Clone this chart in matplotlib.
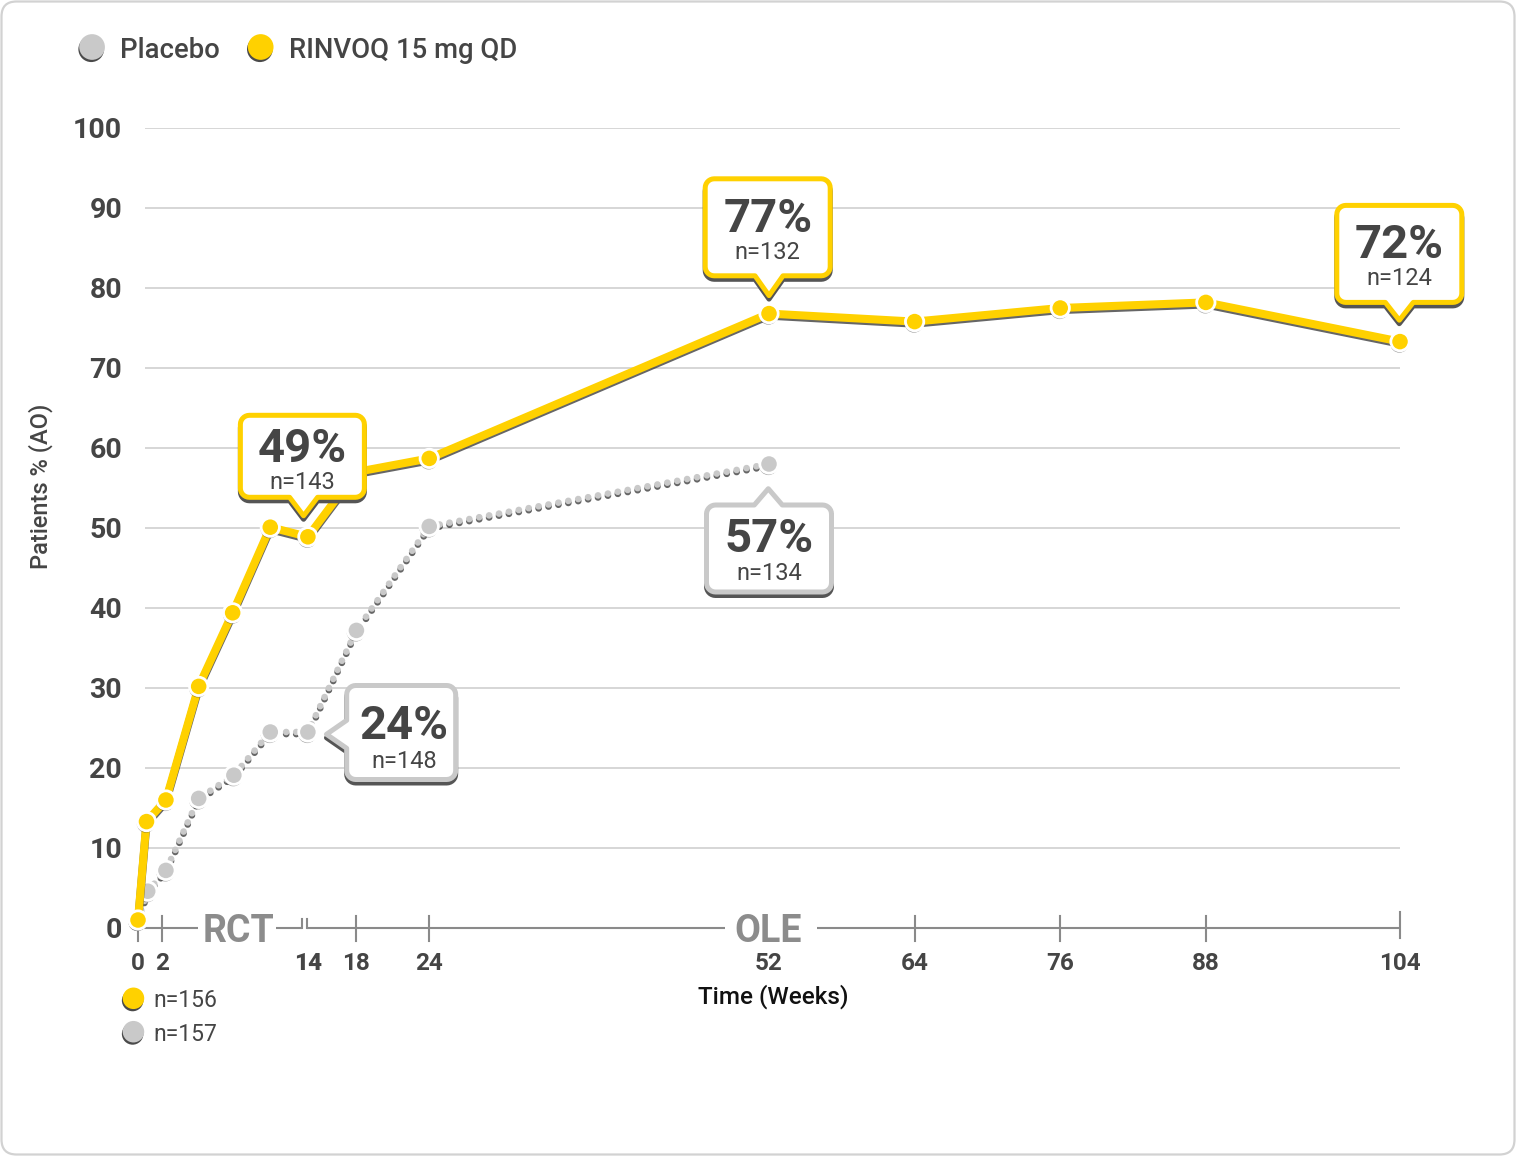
import numpy as np
import matplotlib
matplotlib.use("Agg")
import matplotlib.pyplot as plt
import matplotlib.patheffects as pe
import matplotlib.transforms as mtransforms
from matplotlib.patches import Polygon, FancyBboxPatch
from matplotlib.lines import Line2D

plt.rcParams['font.family'] = ['Roboto', 'DejaVu Sans']

# ---------------- data ----------------
rinvoq_weeks = [0, 0.7, 2.3, 5, 7.8, 10.9, 14, 18, 24, 52, 64, 76, 88, 104]
rinvoq_pct = [1.0, 13.3, 16.0, 30.2, 39.4, 50.1, 48.9, 57.0, 58.7, 76.8, 75.8, 77.5, 78.2, 73.3]
placebo_weeks = [0, 0.8, 2.3, 5, 7.9, 10.9, 14, 18, 24, 52]
placebo_pct = [1.0, 4.6, 7.2, 16.2, 19.1, 24.5, 24.5, 37.2, 50.2, 58.0]

x_ticks = [0, 2, 14, 18, 24, 52, 64, 76, 88, 104]
x_tick_labels = ['0', '2', '14', '18', '24', '52', '64', '76', '88', '104']
y_ticks = list(range(0, 101, 10))

series_names = ['Placebo', 'RINVOQ 15 mg QD']
baseline_n = ['n=156', 'n=157']  # RINVOQ, Placebo

rinvoq_callout_weeks = [14, 52, 104]
rinvoq_callout_pct = ['49%', '77%', '72%']
rinvoq_callout_n = ['n=143', 'n=132', 'n=124']
placebo_callout_weeks = [14, 52]
placebo_callout_pct = ['24%', '57%']
placebo_callout_n = ['n=148', 'n=134']

# ---------------- style ----------------
YEL = '#FFD100'
GRY = '#C9C9C9'
TXT = '#454545'
AX = '#8a8a8a'

W, H, DPI = 1516, 1156, 100
fig = plt.figure(figsize=(W / DPI, H / DPI), dpi=DPI, facecolor='white')
ax = fig.add_axes([138 / W, (H - 928) / H, 1262 / W, 800 / H])
ax.set_xlim(0, 104)
ax.set_ylim(0, 100)
ax.set_facecolor('none')
for s in ax.spines.values():
    s.set_visible(False)

# frame
fig.patches.append(FancyBboxPatch((0.015, 0.015), W / DPI - 0.03, H / DPI - 0.03,
                                  boxstyle='round,pad=0,rounding_size=0.15',
                                  transform=fig.dpi_scale_trans, fc='none',
                                  ec='#d2d2d2', lw=1.6, zorder=-5))

# grid
ax.hlines(y_ticks[1:], 0.6, 104, color='#cfcfcf', lw=1.2, zorder=0)

# y ticks
ax.set_yticks(y_ticks)
ax.set_yticklabels([str(v) for v in y_ticks])
ax.tick_params(axis='y', length=0, pad=11.5, labelsize=20.5, labelcolor=TXT)
for lab in ax.get_yticklabels():
    lab.set_fontweight('bold')

# x ticks (labels only; marks drawn as custom axis)
ax.set_xticks(x_ticks)
ax.set_xticklabels(x_tick_labels)
ax.tick_params(axis='x', length=0, pad=17.5, labelsize=17.5, labelcolor=TXT)
for lab in ax.get_xticklabels():
    lab.set_fontweight('heavy' if lab.get_text() == '14' else 'bold')

# custom axis line with RCT / OLE breaks
segs = [(0, 4.94), (11.37, 13.55), (13.95, 48.37), (55.95, 104)]
for a, b in segs:
    ax.plot([a, b], [0, 0], color=AX, lw=1.5, clip_on=False, zorder=1,
            solid_capstyle='butt')
ax.plot([13.55, 13.55], [0, 1.1], color=AX, lw=1.5, clip_on=False, zorder=1)
ax.plot([13.95, 13.95], [0, 1.1], color=AX, lw=1.5, clip_on=False, zorder=1)
for t in [0, 2, 18, 24, 64, 76, 88]:
    ax.plot([t, t], [-1.6, 1.5], color=AX, lw=1.5, clip_on=False, zorder=1)
ax.plot([104, 104], [-1.2, 2.0], color=AX, lw=1.5, clip_on=False, zorder=1)
ax.text(8.3, 0, 'RCT', ha='center', va='center_baseline', fontsize=27,
        fontweight='bold', color='#8c8c8c', zorder=1)
ax.text(51.9, 0, 'OLE', ha='center', va='center_baseline', fontsize=27,
        fontweight='bold', color='#8c8c8c', zorder=1)

# axis labels
ax.set_ylabel('Patients % (AO)', fontsize=17, color=TXT, fontweight='medium')
ax.yaxis.set_label_coords(-0.067, 0.5525)
ax.set_xlabel('Time (Weeks)', fontsize=17.5, color='#111111', fontweight='medium')
ax.xaxis.label.set_va('center')
ax.xaxis.set_label_coords(0.503, -0.08625)

# ---------------- series ----------------
line_shadow = [pe.SimpleLineShadow(offset=(0, -1.5), shadow_color='#333333', alpha=0.75),
               pe.Normal()]
mark_shadow = [pe.SimplePatchShadow(offset=(-0.4, -1.4), shadow_rgbFace='#333333', alpha=0.45),
               pe.Normal()]

ax.plot(placebo_weeks, placebo_pct, color=GRY, lw=4.8, ls=(0, (0.01, 1.5)),
        dash_capstyle='round', zorder=2, clip_on=False, path_effects=line_shadow)
ax.plot(placebo_weeks, placebo_pct, ls='none', marker='o', ms=13.2, mfc=GRY,
        mec='white', mew=2.0, zorder=3, clip_on=False, path_effects=mark_shadow)
ax.plot(rinvoq_weeks, rinvoq_pct, color=YEL, lw=5.8, zorder=4, clip_on=False,
        solid_joinstyle='round', path_effects=line_shadow)
ax.plot(rinvoq_weeks, rinvoq_pct, ls='none', marker='o', ms=13.2, mfc=YEL,
        mec='white', mew=2.0, zorder=5, clip_on=False, path_effects=mark_shadow)


# ---------------- callouts ----------------
def callout_path(cx, cy, w, h, r, side, tip, hw):
    x0, x1 = cx - w / 2, cx + w / 2
    y0, y1 = cy - h / 2, cy + h / 2
    v = []

    def arc(xc, yc, a0, a1):
        for a in np.linspace(np.radians(a0), np.radians(a1), 8):
            v.append((xc + r * np.cos(a), yc + r * np.sin(a)))
    v.append((x0 + r, y0))
    if side == 'bottom':
        v += [(tip[0] - hw, y0), tip, (tip[0] + hw, y0)]
    arc(x1 - r, y0 + r, -90, 0)
    if side == 'right':
        v += [(x1, tip[1] - hw), tip, (x1, tip[1] + hw)]
    arc(x1 - r, y1 - r, 0, 90)
    if side == 'top':
        v += [(tip[0] + hw, y1), tip, (tip[0] - hw, y1)]
    arc(x0 + r, y1 - r, 90, 180)
    if side == 'left':
        v += [(x0, tip[1] + hw), tip, (x0, tip[1] - hw)]
    arc(x0 + r, y0 + r, 180, 270)
    return np.array(v)


def callout(xd, yd, center, size, tip, side, edge, big, small, big_y, small_y, tdx=0):
    trans = mtransforms.Affine2D() + mtransforms.ScaledTranslation(xd, yd, ax.transData)
    lw_px = 5
    cx, cy = center
    w, h = size[0] - lw_px, size[1] - lw_px
    tx, ty = tip
    if side == 'bottom':
        ty += 3
    elif side == 'top':
        ty -= 3
    elif side == 'left':
        tx += 3
    verts = callout_path(cx, cy, w, h, 9, side, (tx, ty), 14)
    shadow = Polygon(verts + np.array([0, -3.5]), closed=True, fc='#555555', ec='#555555',
                     lw=lw_px * 0.72, joinstyle='round', transform=trans, zorder=10, clip_on=False)
    box = Polygon(verts, closed=True, fc='white', ec=edge, lw=lw_px * 0.72,
                  joinstyle='round', transform=trans, zorder=11, clip_on=False)
    ax.add_patch(shadow)
    ax.add_patch(box)
    ax.text(cx + tdx, big_y, big, transform=trans, ha='center', va='baseline',
            fontsize=34, fontweight='bold', color=TXT, zorder=12, clip_on=False)
    ax.text(cx + tdx, small_y, small, transform=trans, ha='center', va='baseline',
            fontsize=17, fontweight='normal', color=TXT, zorder=12, clip_on=False)


# geometry of each callout in pixels relative to its data point (y up)
r_geom = [
    dict(center=(-5.5, 80.5), size=(129, 87), tip=(-4.3, 18), side='bottom', big_y=75, small_y=48),
    dict(center=(-1.3, 86.3), size=(130, 102), tip=(0, 15), side='bottom', big_y=82, small_y=54.3),
    dict(center=(-0.7, 87.7), size=(130, 102), tip=(-0.7, 18.4), side='bottom', big_y=83.5, small_y=56.7),
]
p_geom = [
    dict(center=(93.3, -0.5), size=(114, 99), tip=(15.6, -2.3), side='left', big_y=-7, small_y=-36, tdx=3),
    dict(center=(0, -84.5), size=(130, 92), tip=(-0.7, -21.7), side='top', big_y=-87.5, small_y=-115.5),
]

for wk, big, small, g in zip(rinvoq_callout_weeks, rinvoq_callout_pct, rinvoq_callout_n, r_geom):
    yd = rinvoq_pct[rinvoq_weeks.index(wk)]
    callout(wk, yd, g['center'], g['size'], g['tip'], g['side'], YEL, big, small,
            g['big_y'], g['small_y'], g.get('tdx', 0))
for wk, big, small, g in zip(placebo_callout_weeks, placebo_callout_pct, placebo_callout_n, p_geom):
    yd = placebo_pct[placebo_weeks.index(wk)]
    callout(wk, yd, g['center'], g['size'], g['tip'], g['side'], GRY, big, small,
            g['big_y'], g['small_y'], g.get('tdx', 0))

# ---------------- legends ----------------
leg_shadow = [pe.SimplePatchShadow(offset=(-0.6, -1.6), shadow_rgbFace='#2a2a2a', alpha=0.85),
              pe.Normal()]
h_plc = Line2D([], [], ls='none', marker='o', ms=18.5, mfc=GRY, mec='none', path_effects=leg_shadow)
h_rin = Line2D([], [], ls='none', marker='o', ms=18.5, mfc=YEL, mec='none', path_effects=leg_shadow)
fig.legend([h_plc, h_rin], series_names, loc='center left',
           bbox_to_anchor=(79 / W, 1 - 50 / H), ncol=2, frameon=False,
           prop=dict(size=19.8, weight='medium'), labelcolor=TXT,
           handlelength=0.95, handleheight=1.0, handletextpad=0.55,
           columnspacing=1.0, borderpad=0, borderaxespad=0)

h_rin2 = Line2D([], [], ls='none', marker='o', ms=15.5, mfc=YEL, mec='none', path_effects=leg_shadow)
h_plc2 = Line2D([], [], ls='none', marker='o', ms=15.5, mfc=GRY, mec='none', path_effects=leg_shadow)
fig.legend([h_rin2, h_plc2], baseline_n, loc='center left',
           bbox_to_anchor=(122 / W, 1 - 1017.5 / H), ncol=1, frameon=False,
           prop=dict(size=16.5, weight='normal'), labelcolor=TXT,
           handlelength=1.0, handleheight=1.0, handletextpad=0.36,
           labelspacing=0.45, borderpad=0, borderaxespad=0)

ax.set_xlim(0, 104)
ax.set_ylim(0, 100)
fig.savefig('out.png', dpi=DPI, facecolor='white')
